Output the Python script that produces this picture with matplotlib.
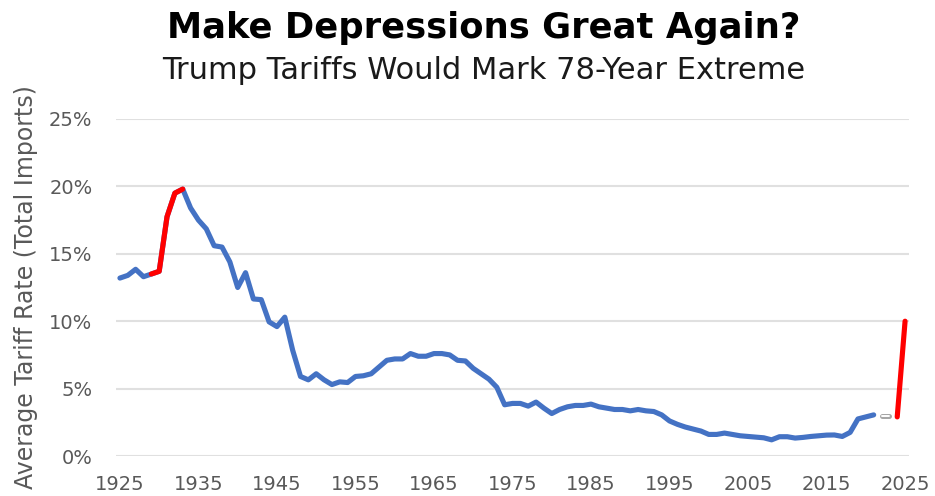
import matplotlib
matplotlib.use("Agg")
from matplotlib import pyplot as plt

# average US tariff rate on total imports, percent
years = list(range(1925, 2022))
rates = [
    13.2, 13.4, 13.85, 13.3, 13.5, 13.7, 17.75, 19.5, 19.8, 18.4,
    17.5, 16.85, 15.6, 15.5, 14.4, 12.5, 13.6, 11.65, 11.6, 9.95,
    9.6, 10.3, 7.85, 5.9, 5.65, 6.1, 5.65, 5.3, 5.5, 5.45,
    5.9, 5.95, 6.1, 6.6, 7.1, 7.2, 7.2, 7.6, 7.4, 7.4,
    7.6, 7.6, 7.5, 7.1, 7.05, 6.5, 6.1, 5.7, 5.1, 3.8,
    3.9, 3.9, 3.7, 4.0, 3.55, 3.15, 3.45, 3.65, 3.75, 3.75,
    3.85, 3.65, 3.55, 3.45, 3.45, 3.35, 3.45, 3.35, 3.3, 3.05,
    2.6, 2.35, 2.15, 2.0, 1.85, 1.6, 1.6, 1.7, 1.6, 1.5,
    1.45, 1.4, 1.35, 1.2, 1.43, 1.43, 1.33, 1.38, 1.45, 1.5,
    1.55, 1.56, 1.45, 1.75, 2.75, 2.9, 3.05,
]

# Smoot-Hawley years
hawley_start, hawley_end = 1929, 1933

# recent years without data, then the proposed jump
gap_years = [2022, 2023]
gap_rates = [3.0, 3.0]
trump_years = [2024, 2025]
trump_rates = [2.9, 10.0]

blue = "#4472C4"
red = "#FF0000"
grey_txt = "#595959"

fig = plt.figure(figsize=(9.35, 4.96), dpi=100)
ax = fig.add_axes([116 / 935, 40 / 496, 793 / 935, 337 / 496])

line_kw = dict(lw=3.7, solid_capstyle="round", solid_joinstyle="round")
ax.plot(years, rates, color=blue, **line_kw)
i0 = years.index(hawley_start)
i1 = years.index(hawley_end)
ax.plot(years[i0:i1 + 1], rates[i0:i1 + 1], color=red, **line_kw)

ax.plot(gap_years, gap_rates, color="#A6A6A6", lw=3.6, solid_capstyle="round")
ax.plot(gap_years, gap_rates, color="white", lw=1.4, solid_capstyle="round")

ax.plot(trump_years, trump_rates, color=red, **line_kw)

ax.set_xlim(1924.5, 2025.5)
ax.set_ylim(0, 25)
ax.set_xticks(range(1925, 2026, 10))
ax.set_yticks(range(0, 26, 5))
ax.set_yticklabels([f"{v}%" for v in range(0, 26, 5)])

ax.grid(axis="y", color="#E0E0E0", lw=1.5)
ax.set_axisbelow(True)
for s in ax.spines.values():
    s.set_visible(False)
ax.tick_params(length=0, labelsize=14, labelcolor=grey_txt)
ax.tick_params(axis="x", pad=14)
ax.tick_params(axis="y", pad=17)

ax.set_ylabel("Average Tariff Rate (Total Imports)", fontsize=17, color=grey_txt)
ax.yaxis.set_label_coords(-0.098, 0.5)

fig.text(0.517, 0.943, "Make Depressions Great Again?", ha="center", va="center",
         fontsize=25.5, fontweight="bold", color="black")
fig.text(0.517, 0.858, "Trump Tariffs Would Mark 78-Year Extreme", ha="center", va="center",
         fontsize=22, color="#1A1A1A")

fig.savefig("out.png", dpi=100)
